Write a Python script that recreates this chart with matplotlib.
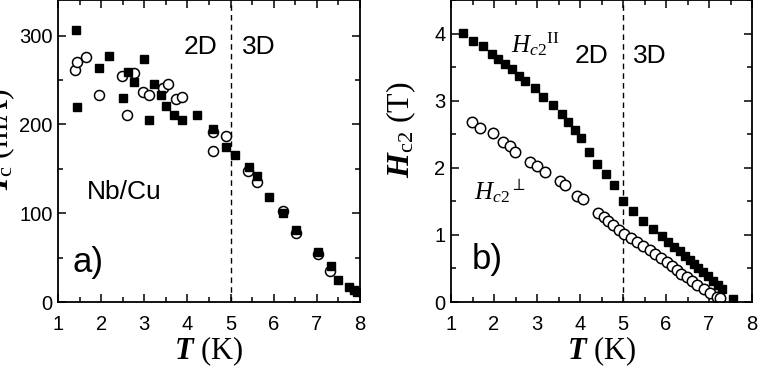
#!/usr/bin/env python3
# Nb/Cu: critical current and upper critical field vs temperature
import matplotlib
matplotlib.use('Agg')
from matplotlib import pyplot as plt
from matplotlib.ticker import MultipleLocator

plt.rcParams['font.family'] = ['Liberation Sans', 'DejaVu Sans']
plt.rcParams['mathtext.fontset'] = 'custom'
plt.rcParams['mathtext.rm'] = 'Liberation Serif'
plt.rcParams['mathtext.it'] = 'Liberation Serif:italic'
plt.rcParams['mathtext.bf'] = 'Liberation Serif:italic:bold'

# %% data, panel a) Ic(T)
ic_sq_T = [1.41, 1.45, 1.94, 2.18, 2.50, 2.62, 2.75, 2.99, 3.11, 3.23, 3.38, 3.50,
           3.69, 3.87, 4.22, 4.60, 4.90, 5.11, 5.42, 5.61, 5.89, 6.21, 6.51, 7.02,
           7.33, 7.50, 7.75, 7.87, 7.93]
ic_sq_I = [306, 219, 264, 277, 230, 259, 248, 274, 205, 245, 233, 221,
           210, 205, 211, 195, 174, 165, 152, 142, 118, 100, 81, 56,
           40, 25, 17, 13, 11]
ic_ci_T = [1.39, 1.43, 1.65, 1.94, 2.48, 2.60, 2.76, 2.98, 3.11, 3.43, 3.54, 3.73,
           3.88, 4.60, 4.60, 4.90, 5.40, 5.61, 6.21, 6.51, 7.02, 7.31]
ic_ci_I = [261, 270, 276, 233, 254, 211, 258, 236, 233, 241, 245, 228,
           231, 191, 170, 187, 147, 135, 103, 78, 54, 35]

# %% data, panel b) Hc2(T)
hpar_T = [1.28, 1.52, 1.74, 1.95, 2.10, 2.26, 2.41, 2.57, 2.72, 2.95, 3.15, 3.37,
          3.57, 3.73, 3.88, 4.02, 4.20, 4.40, 4.60, 4.78, 5.01, 5.24, 5.47, 5.70,
          5.90, 6.05, 6.19, 6.32, 6.44, 6.55, 6.65, 6.75, 6.85, 6.97, 7.10, 7.20,
          7.30, 7.55]
hpar_H = [4.01, 3.89, 3.81, 3.70, 3.62, 3.55, 3.47, 3.37, 3.29, 3.19, 3.06, 2.93,
          2.80, 2.68, 2.56, 2.45, 2.24, 2.06, 1.90, 1.75, 1.50, 1.36, 1.21, 1.09,
          0.98, 0.90, 0.82, 0.76, 0.69, 0.63, 0.56, 0.51, 0.45, 0.38, 0.31, 0.25,
          0.19, 0.04]
hperp_T = [1.48, 1.67, 1.97, 2.22, 2.37, 2.49, 2.84, 3.01, 3.19, 3.53, 3.65, 3.92,
           4.08, 4.43, 4.55, 4.66, 4.77, 4.90, 5.03, 5.18, 5.33, 5.47, 5.62, 5.75,
           5.88, 6.02, 6.13, 6.25, 6.36, 6.48, 6.60, 6.73, 6.88, 7.03, 7.18, 7.26]
hperp_H = [2.68, 2.59, 2.52, 2.38, 2.32, 2.24, 2.08, 2.02, 1.94, 1.80, 1.75, 1.58,
           1.53, 1.33, 1.26, 1.20, 1.15, 1.08, 1.02, 0.96, 0.89, 0.83, 0.77, 0.71,
           0.65, 0.59, 0.53, 0.47, 0.42, 0.37, 0.31, 0.25, 0.19, 0.13, 0.08, 0.06]

W, H = 763, 373
fig = plt.figure(figsize=(W / 100, H / 100), dpi=100)
ax1 = fig.add_axes([58 / W, 71 / H, 302 / W, 302 / H])
ax2 = fig.add_axes([451 / W, 71 / H, 301 / W, 302 / H])


def style(ax):
    ax.set_xlim(1, 8)
    ax.xaxis.set_major_locator(MultipleLocator(1))
    ax.xaxis.set_minor_locator(MultipleLocator(0.5))
    ax.tick_params(which='both', direction='in', top=True, right=True,
                   width=1.1, labelsize=14.5)
    ax.tick_params(axis='x', pad=9)
    ax.tick_params(axis='y', pad=4)
    ax.tick_params(which='major', length=6)
    ax.tick_params(which='minor', length=3.5)
    for s in ax.spines.values():
        s.set_linewidth(1.3)
    ax.axvline(5, color='k', lw=1, ls=(0, (4, 3)))
    ax.set_xlabel(r'$\mathbf{T}$ (K)', family='Liberation Serif', fontsize=22,
                  labelpad=0.5)


# %% a)
style(ax1)
ax1.set_ylim(0, 340)
ax1.yaxis.set_major_locator(MultipleLocator(100))
ax1.yaxis.set_minor_locator(MultipleLocator(50))
ax1.plot(ic_ci_T, ic_ci_I, 'o', ms=7.2, mfc='white', mec='k', mew=1.1)
ax1.plot(ic_sq_T, ic_sq_I, 's', ms=6.2, color='k')
ax1.text(4.3, 287, '2D', fontsize=19, ha='center', va='center')
ax1.text(5.65, 287, '3D', fontsize=19, ha='center', va='center')
ax1.text(2.53, 124, 'Nb/Cu', fontsize=19, ha='center', va='center')
ax1.text(1.70, 44, 'a)', fontsize=25, ha='center', va='center')
ax1.set_ylabel(r'$\mathbf{I}_{\mathrm{c}}$ (mA)', family='Liberation Serif',
               fontsize=23)
ax1.yaxis.set_label_coords(-0.135, 0.54)

# %% b)
style(ax2)
ax2.set_ylim(0, 4.5)
ax2.yaxis.set_major_locator(MultipleLocator(1))
ax2.yaxis.set_minor_locator(MultipleLocator(0.5))
ax2.plot(hpar_T, hpar_H, 's', ms=5.8, color='k')
ax2.plot(hperp_T, hperp_H, 'o', ms=7.5, mfc='white', mec='k', mew=1.1)
ax2.text(2.95, 3.84, '$H_{c2}{}^{\\mathrm{II}}$', fontsize=18, ha='center', va='center')
ax2.text(4.27, 3.66, '2D', fontsize=19, ha='center', va='center')
ax2.text(5.63, 3.66, '3D', fontsize=19, ha='center', va='center')
ax2.text(2.14, 1.66, '$H_{c2}{}^{\\perp}$', fontsize=18, ha='center', va='center')
ax2.text(1.84, 0.64, 'b)', fontsize=25, ha='center', va='center')
ax2.set_ylabel(r'$\mathbf{H}_{\mathrm{c2}}$ (T)', family='Liberation Serif',
               fontsize=23)
ax2.yaxis.set_label_coords(-0.11, 0.57)

plt.savefig('out.png', dpi=100)
